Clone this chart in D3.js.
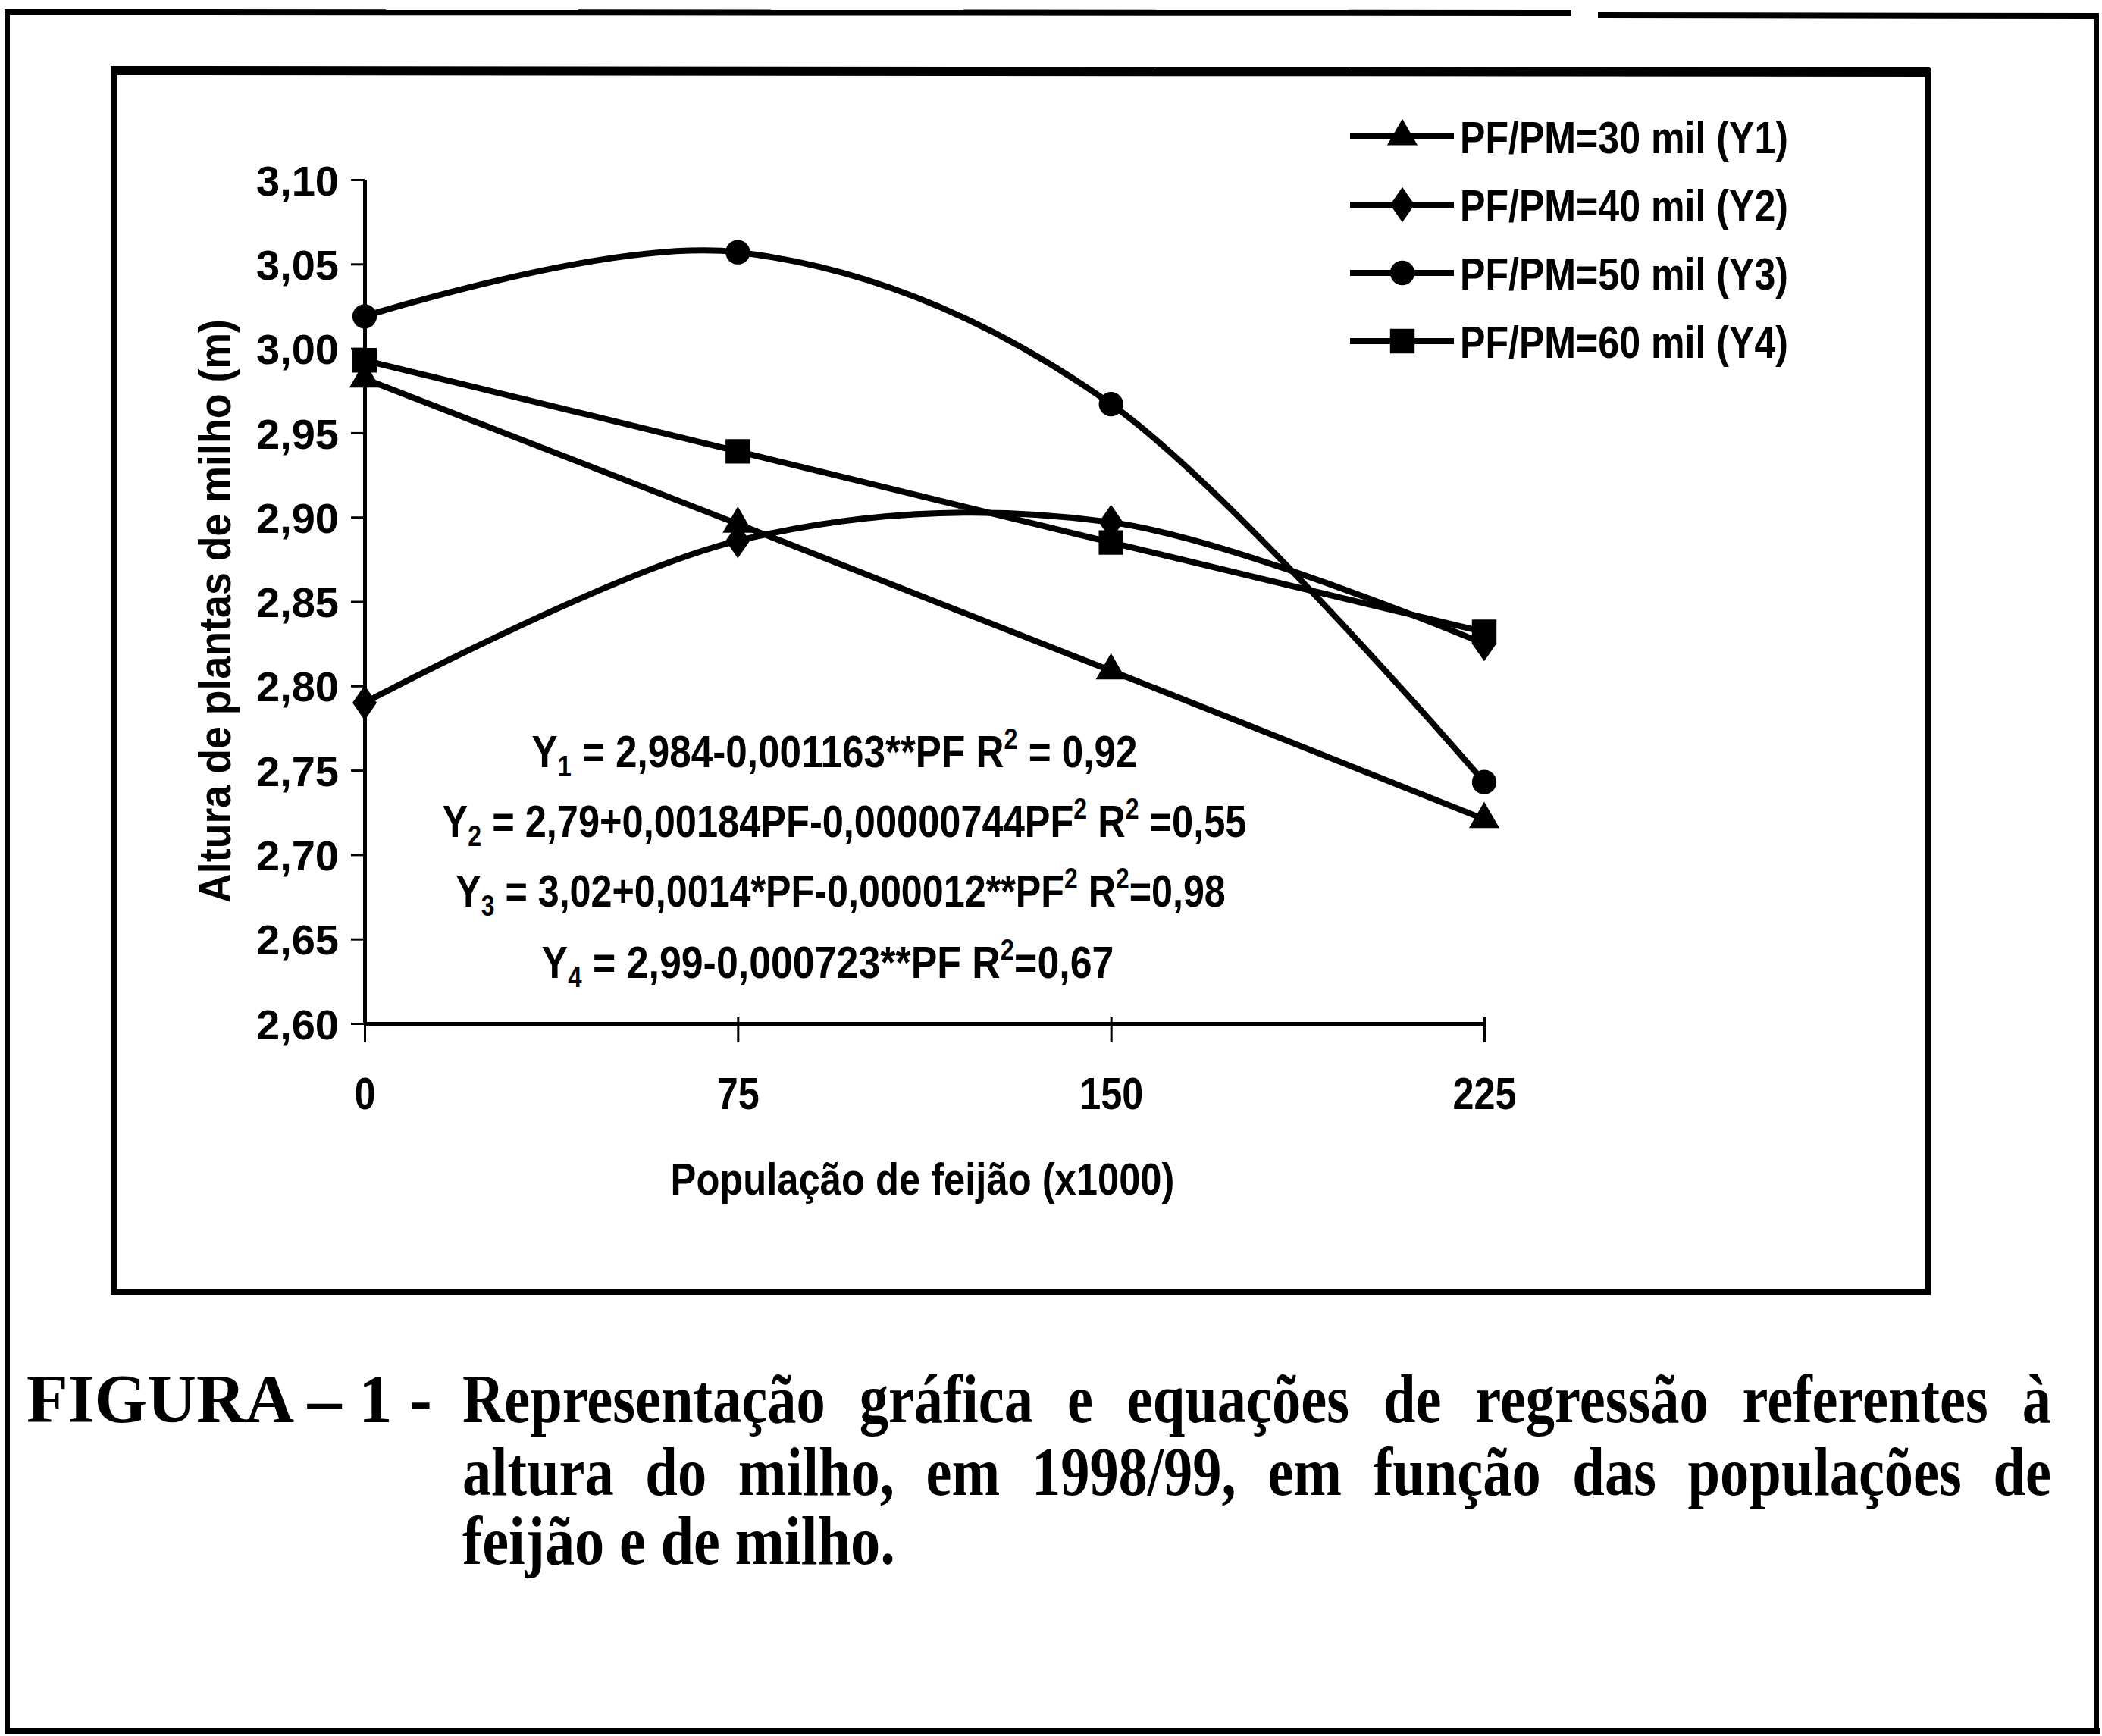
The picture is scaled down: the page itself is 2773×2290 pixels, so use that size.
<!DOCTYPE html>
<html>
<head>
<meta charset="utf-8">
<title>altura do milho</title>
<script src="https://cdn.jsdelivr.net/npm/d3@7"></script>
<style>
    body {margin: 0; background: #fff;}
    text {font-family: "Liberation Sans", Arial, sans-serif; font-weight: bold; fill: #000;}
    .caption text {font-family: "Liberation Serif", "Times New Roman", serif;}
    .axis path, .axis line {stroke: #000;}
</style>
</head>
<body>
<div id="container"></div>
<script>
    // data
    const popFeijao = [0, 75, 150, 225];
    const y1Vals = [2.982, 2.896, 2.809, 2.721];
    const y2Vals = [2.790, 2.886, 2.897, 2.825];
    const y3Vals = [3.019, 3.057, 2.967, 2.743];
    const y4Vals = [2.993, 2.939, 2.885, 2.832];
    const seriesLabels = ['PF/PM=30 mil (Y1)', 'PF/PM=40 mil (Y2)', 'PF/PM=50 mil (Y3)', 'PF/PM=60 mil (Y4)'];
    const yTicks = [2.60, 2.65, 2.70, 2.75, 2.80, 2.85, 2.90, 2.95, 3.00, 3.05, 3.10];
    const xTicks = [0, 75, 150, 225];
    const yTitle = 'Altura de plantas de milho (m)';
    const xTitle = 'População de feijão (x1000)';

    // equations: [text, '' | 'sub' | 'sup']
    const eq1 = [['Y', ''], ['1', 'sub'], [' = 2,984-0,001163**PF R', ''], ['2', 'sup'], [' = 0,92', '']];
    const eq2 = [['Y', ''], ['2', 'sub'], [' = 2,79+0,00184PF-0,00000744PF', ''], ['2', 'sup'], ['  R', ''], ['2', 'sup'], [' =0,55', '']];
    const eq3 = [['Y', ''], ['3', 'sub'], [' = 3,02+0,0014*PF-0,000012**PF', ''], ['2', 'sup'], [' R', ''], ['2', 'sup'], ['=0,98', '']];
    const eq4 = [['Y', ''], ['4', 'sub'], [' = 2,99-0,000723**PF R', ''], ['2', 'sup'], ['=0,67', '']];

    const capLine1 = ['Representação', 'gráfica', 'e', 'equações', 'de', 'regressão', 'referentes', 'à'];
    const capLine2 = ['altura', 'do', 'milho,', 'em', '1998/99,', 'em', 'função', 'das', 'populações', 'de'];
    const capLine3 = 'feijão e de milho.';
    const capLabel = 'FIGURA – 1 -';

    const w = 2773;
    const h = 2290;

    const svg = d3.select('div#container')
        .append('svg')
        .attr('width', w)
        .attr('height', h);

    svg.append('rect').attr('width', w).attr('height', h).attr('fill', '#fff');

    // outer frame (top edge has a small break)
    const frame = svg.append('g').attr('stroke', '#000').attr('fill', 'none');
    frame.append('line').attr('x1', 6).attr('y1', 16).attr('x2', 2073).attr('y2', 17).attr('stroke-width', 8);
    frame.append('line').attr('x1', 2108).attr('y1', 20).attr('x2', 2769).attr('y2', 21).attr('stroke-width', 8);
    frame.append('line').attr('x1', 10).attr('y1', 12).attr('x2', 10).attr('y2', 2288).attr('stroke-width', 6);
    frame.append('line').attr('x1', 2766).attr('y1', 18).attr('x2', 2766).attr('y2', 2288).attr('stroke-width', 6);
    frame.append('line').attr('x1', 6).attr('y1', 2284).attr('x2', 2770).attr('y2', 2284).attr('stroke-width', 8);

    // chart box
    frame.append('rect').attr('x', 150).attr('y', 94).attr('width', 2393).attr('height', 1610).attr('stroke-width', 8);
    frame.append('line').attr('x1', 146).attr('y1', 93).attr('x2', 2546).attr('y2', 95).attr('stroke-width', 12);

    const plot = {left: 481, right: 1958, top: 237, bottom: 1350};

    const x = d3.scaleLinear().domain([0, 225]).range([plot.left, plot.right]);
    const y = d3.scaleLinear().domain([2.60, 3.10]).range([plot.bottom, plot.top]);

    // y axis
    const yAxis = svg.append('g')
        .attr('class', 'axis')
        .attr('transform', `translate(${plot.left},0)`)
        .call(d3.axisLeft(y).tickValues(yTicks).tickSize(18).tickSizeOuter(0).tickPadding(16)
            .tickFormat(d => d.toFixed(2).replace('.', ',')));
    yAxis.select('.domain').attr('stroke-width', 5);
    yAxis.selectAll('.tick line').attr('stroke-width', 3);
    yAxis.selectAll('.tick text').attr('font-size', 56).attr('font-family', '"Liberation Sans", Arial, sans-serif')
        .attr('font-weight', 'bold').attr('dy', '0.36em');

    // x axis
    const xAxis = svg.append('g')
        .attr('class', 'axis')
        .attr('transform', `translate(0,${plot.bottom})`)
        .call(d3.axisBottom(x).tickValues(xTicks).tickSize(25).tickSizeOuter(0).tickPadding(50));
    xAxis.select('.domain').attr('stroke-width', 5);
    xAxis.selectAll('.tick line').attr('stroke-width', 3).attr('y1', -8);
    xAxis.selectAll('.tick text').attr('font-size', 60).attr('font-family', '"Liberation Sans", Arial, sans-serif')
        .attr('font-weight', 'bold').attr('dy', '0.71em').attr('y', 70)
        .attr('transform', 'scale(0.84,1)');

    // squeeze a text group to a given width around its anchor
    function fitGroup(g, cx, cy, width) {
        const bw = g.node().getBBox().width;
        g.attr('transform', `translate(${cx},${cy}) scale(${width / bw},1)`);
    }

    // axis titles
    const yt = svg.append('g');
    yt.append('text').attr('text-anchor', 'middle').attr('font-size', 60).text(yTitle);
    const ybw = yt.node().getBBox().width;
    yt.attr('transform', `translate(304,806) rotate(-90) scale(${770 / ybw},1)`);

    const xt = svg.append('g');
    xt.append('text').attr('text-anchor', 'middle').attr('font-size', 60).text(xTitle);
    fitGroup(xt, 1217, 1576, 665);

    // series
    const series = [
        {vals: y1Vals, sym: d3.symbolTriangle, size: 700, sx: 1},
        {vals: y2Vals, sym: d3.symbolDiamond, size: 620, sx: 1.2},
        {vals: y3Vals, sym: d3.symbolCircle, size: 820, sx: 1},
        {vals: y4Vals, sym: d3.symbolSquare, size: 1050, sx: 1}
    ];

    const line = d3.line()
        .x((d, i) => x(popFeijao[i]))
        .y(d => y(d))
        .curve(d3.curveCardinal.tension(0));

    const lines = svg.append('g');
    series.forEach(s => {
        lines.append('path')
            .attr('d', line(s.vals))
            .attr('fill', 'none')
            .attr('stroke', '#000')
            .attr('stroke-width', 8)
            .attr('stroke-linejoin', 'round');
    });
    series.forEach(s => {
        lines.selectAll(null)
            .data(s.vals)
            .enter()
            .append('path')
            .attr('d', d3.symbol().type(s.sym).size(s.size))
            .attr('transform', (d, i) => `translate(${x(popFeijao[i])},${y(d)}) scale(${s.sx},1)`)
            .attr('fill', '#000');
    });

    // legend
    const legend = svg.append('g');
    const legendY = [180, 270, 360, 450];
    seriesLabels.forEach((label, i) => {
        const row = legend.append('g').attr('transform', `translate(0,${legendY[i]})`);
        row.append('line').attr('x1', 1781).attr('x2', 1918).attr('y1', 0).attr('y2', 0)
            .attr('stroke', '#000').attr('stroke-width', 8);
        row.append('path').attr('d', d3.symbol().type(series[i].sym).size(series[i].size))
            .attr('transform', `translate(1850,0) scale(${series[i].sx},1)`).attr('fill', '#000');
        const tg = row.append('g');
        tg.append('text').attr('font-size', 60).attr('dy', 22).text(label);
        const bw = tg.node().getBBox().width;
        tg.attr('transform', `translate(1926,0) scale(${433 / bw},1)`);
    });

    // regression equations
    function drawEquation(parts, cx, cy, width) {
        const g = svg.append('g');
        const t = g.append('text').attr('text-anchor', 'middle').attr('font-size', 60);
        let shift = 0;
        parts.forEach(p => {
            const target = p[1] === 'sub' ? 12 : p[1] === 'sup' ? -24 : 0;
            t.append('tspan')
                .attr('dy', target - shift)
                .attr('font-size', p[1] ? 38 : 60)
                .text(p[0]);
            shift = target;
        });
        fitGroup(g, cx, cy, width);
    }
    drawEquation(eq1, 1101, 1012, 799);
    drawEquation(eq2, 1114, 1104, 1061);
    drawEquation(eq3, 1109, 1196, 1016);
    drawEquation(eq4, 1092, 1290, 755);

    // caption
    const cap = svg.append('g').attr('class', 'caption');
    const capSize = 90;
    const capScale = 0.85;

    const lbl = cap.append('g');
    lbl.append('text').attr('font-size', capSize).text(capLabel);
    const lbw = lbl.node().getBBox().width;
    lbl.attr('transform', `translate(35,1876) scale(${535 / lbw},1)`);

    function justify(words, yy, xl, xr) {
        const g = cap.append('g');
        const nodes = words.map(wd => g.append('text').attr('font-size', capSize).text(wd));
        const widths = nodes.map(n => n.node().getComputedTextLength() * capScale);
        const gap = (xr - xl - d3.sum(widths)) / (words.length - 1);
        let xx = xl;
        nodes.forEach((n, i) => {
            n.attr('transform', `translate(${xx},${yy}) scale(${capScale},1)`);
            xx += widths[i] + gap;
        });
    }
    justify(capLine1, 1876, 610, 2706);
    justify(capLine2, 1972, 610, 2706);

    const l3 = cap.append('g');
    l3.append('text').attr('font-size', capSize).text(capLine3);
    const l3w = l3.node().getBBox().width;
    l3.attr('transform', `translate(610,2063) scale(${571 / l3w},1)`);
</script>
</body>
</html>
